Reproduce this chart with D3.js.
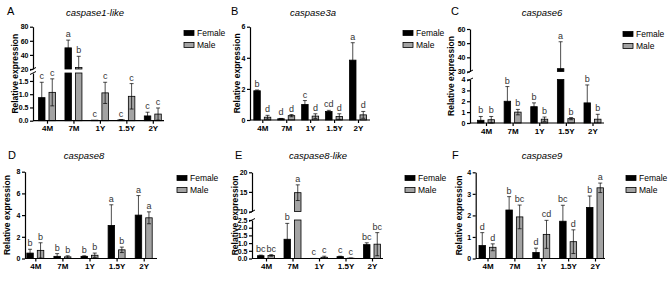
<!DOCTYPE html>
<html>
<head>
<meta charset="utf-8">
<script src="https://cdn.jsdelivr.net/npm/d3@7"></script>
<style>
  body { margin: 0; background: #fff; }
  svg { font-family: "Liberation Sans", Arial, sans-serif; }
</style>
</head>
<body>
<svg id="fig" width="670" height="281"></svg>
<script>
// ---- data ----
const ages = ["4M", "7M", "1Y", "1.5Y", "2Y"];
const sexes = ["Female", "Male"];

// A caspase1-like
const casp1likeFemale   = [0.87, 50, 0.02, 0.03, 0.18];
const casp1likeFemaleSD = [0.58, 11, 0, 0.01, 0.14];
const casp1likeMale     = [1.07, 22, 1.05, 0.92, 0.25];
const casp1likeMaleSD   = [0.51, 16, 0.40, 0.48, 0.23];
const casp1likeSigF = ["c", "a", "c", "c", "c"];
const casp1likeSigM = ["c", "b", "c", "c", "c"];

// B caspase3a
const casp3aFemale   = [1.88, 0.08, 1.0, 0.55, 3.85];
const casp3aFemaleSD = [0.05, 0.02, 0.25, 0.07, 1.12];
const casp3aMale     = [0.18, 0.28, 0.25, 0.22, 0.33];
const casp3aMaleSD   = [0.12, 0.07, 0.15, 0.18, 0.22];
const casp3aSigF = ["b", "d", "c", "cd", "a"];
const casp3aSigM = ["d", "d", "d", "d", "d"];

// C caspase6
const casp6Female   = [0.25, 2.0, 1.5, 32, 1.85];
const casp6FemaleSD = [0.35, 1.35, 0.35, 19, 1.65];
const casp6Male     = [0.3, 1.0, 0.35, 0.4, 0.35];
const casp6MaleSD   = [0.3, 0.25, 0.2, 0.1, 0.45];
const casp6SigF = ["b", "b", "b", "a", "b"];
const casp6SigM = ["b", "b", "b", "b", "b"];

// D caspase8
const casp8Female   = [0.5, 0.2, 0.2, 3.05, 4.0];
const casp8FemaleSD = [0.35, 0.25, 0.05, 1.9, 1.8];
const casp8Male     = [0.75, 0.15, 0.3, 0.8, 3.75];
const casp8MaleSD   = [0.7, 0.1, 0.2, 0.25, 0.55];
const casp8SigF = ["b", "b", "b", "a", "a"];
const casp8SigM = ["b", "b", "b", "b", "a"];

// E caspase8-like
const casp8likeFemale   = [0.18, 1.25, 0.01, 0.12, 0.9];
const casp8likeFemaleSD = [0.04, 1.03, 0, 0.03, 0.12];
const casp8likeMale     = [0.2, 14.8, 0.08, 0.02, 0.93];
const casp8likeMaleSD   = [0.05, 2.0, 0.07, 0.01, 0.75];
const casp8likeSigF = ["bc", "b", "c", "c", "bc"];
const casp8likeSigM = ["bc", "a", "c", "c", "bc"];

// F caspase9
const casp9Female   = [0.6, 2.25, 0.28, 1.73, 2.37];
const casp9FemaleSD = [0.6, 0.62, 0.2, 0.74, 0.53];
const casp9Male     = [0.52, 1.93, 1.12, 0.78, 3.28];
const casp9MaleSD   = [0.16, 0.55, 0.65, 0.55, 0.22];
const casp9SigF = ["d", "b", "d", "bc", "b"];
const casp9SigM = ["d", "bc", "cd", "d", "a"];

// ---- panel layout ----
const panels = [
  { tag: "A", gene: "caspase1-like", f: [casp1likeFemale, casp1likeFemaleSD, casp1likeSigF], m: [casp1likeMale, casp1likeMaleSD, casp1likeSigM],
    x0: 33, x1: 164, c0: 47, c1: 152.8, base: 120.7, top: 26.7,
    brk: { lowMax: 1.8, lowTop: 73, upMin: 20, upBot: 69, upMax: 80 },
    ticksLow: [0, 0.5, 1, 1.5], ticksUp: [20, 40, 60, 80], fmt: ".1f", fmtUp: "d",
    labX: 15, tagX: 7, tagY: 15, titleX: 95, titleY: 16, legX: 184, legY: 33 },
  { tag: "B", gene: "caspase3a", f: [casp3aFemale, casp3aFemaleSD, casp3aSigF], m: [casp3aMale, casp3aMaleSD, casp3aSigM],
    x0: 250, x1: 370, c0: 262.3, c1: 358, base: 120, top: 26.7, yMax: 6,
    ticks: [0, 2, 4, 6], fmt: "d",
    labX: 237, tagX: 231, tagY: 15, titleX: 313, titleY: 16, legX: 403, legY: 33 },
  { tag: "C", gene: "caspase6", f: [casp6Female, casp6FemaleSD, casp6SigF], m: [casp6Male, casp6MaleSD, casp6SigM],
    x0: 470, x1: 604, c0: 486, c1: 592.5, base: 123, top: 29,
    brk: { lowMax: 4, lowTop: 79.5, upMin: 30, upBot: 71.5, upMax: 60 },
    ticksLow: [0, 1, 2, 3, 4], ticksUp: [30, 40, 50, 60], fmt: "d", fmtUp: "d",
    labX: 451, tagX: 451, tagY: 15, titleX: 542, titleY: 16, legX: 623, legY: 34 },
  { tag: "D", gene: "caspase8", f: [casp8Female, casp8FemaleSD, casp8SigF], m: [casp8Male, casp8MaleSD, casp8SigM],
    x0: 25, x1: 157, c0: 35.3, c1: 143.7, base: 258.5, top: 171.7, yMax: 8,
    ticks: [0, 2, 4, 6, 8], fmt: "d",
    labX: 7, tagX: 8, tagY: 159, titleX: 84, titleY: 159, legX: 177, legY: 178 },
  { tag: "E", gene: "caspase8-like", f: [casp8likeFemale, casp8likeFemaleSD, casp8likeSigF], m: [casp8likeMale, casp8likeMaleSD, casp8likeSigM],
    x0: 252, x1: 383, c0: 266, c1: 372, base: 258.5, top: 172.3,
    brk: { lowMax: 2.5, lowTop: 220, upMin: 10, upBot: 211.5, upMax: 20 },
    ticksLow: [0, 0.5, 1, 1.5, 2, 2.5], ticksUp: [10, 15, 20], fmt: ".1f", fmtUp: "d",
    labX: 235, tagX: 235, tagY: 159, titleX: 318, titleY: 159, legX: 405, legY: 178 },
  { tag: "F", gene: "caspase9", f: [casp9Female, casp9FemaleSD, casp9SigF], m: [casp9Male, casp9MaleSD, casp9SigM],
    x0: 475.7, x1: 605, c0: 487.5, c1: 595, base: 258.5, top: 172.3, yMax: 4,
    ticks: [0, 1, 2, 3, 4], fmt: "d",
    labX: 459, tagX: 452, tagY: 159, titleX: 542, titleY: 159, legX: 626, legY: 178 }
];

const svg = d3.select("#fig");
const barW = 6.5, barGap = 2;
const maleFill = "#a3a3a3";

function drawPanel(p) {
  const g = svg.append("g");

  // y segments (one, or two with an axis break)
  let segs;
  if (p.brk) {
    segs = [
      { dom: [0, p.brk.lowMax], rng: [p.base, p.brk.lowTop], ticks: p.ticksLow, fmt: p.fmt },
      { dom: [p.brk.upMin, p.brk.upMax], rng: [p.brk.upBot, p.top], ticks: p.ticksUp, fmt: p.fmtUp }
    ];
  } else {
    segs = [{ dom: [0, p.yMax], rng: [p.base, p.top], ticks: p.ticks, fmt: p.fmt }];
  }
  segs.forEach(s => s.y = d3.scaleLinear().domain(s.dom).range(s.rng));
  const segOf = v => (segs.length > 1 && v >= segs[1].dom[0]) ? segs[1] : segs[0];
  const yv = v => segOf(v).y(v);

  const x = d3.scalePoint().domain(ages).range([p.c0, p.c1]);

  const rows = [];
  ages.forEach((a, i) => {
    rows.push({ age: a, sex: "Female", v: p.f[0][i], sd: p.f[1][i], sig: p.f[2][i], bx: x(a) - barGap - barW });
    rows.push({ age: a, sex: "Male", v: p.m[0][i], sd: p.m[1][i], sig: p.m[2][i], bx: x(a) + barGap });
  });

  // bars, one piece per axis segment
  segs.forEach(s => {
    const inSeg = rows.filter(d => d.v > s.dom[0]);
    g.selectAll(null)
      .data(inSeg)
      .enter()
      .append("rect")
        .attr("x", d => d.bx)
        .attr("width", barW)
        .attr("y", d => s.y(Math.min(d.v, s.dom[1])))
        .attr("height", d => s.y(s.dom[0]) - s.y(Math.min(d.v, s.dom[1])))
        .attr("fill", d => d.sex === "Female" ? "#000" : maleFill)
        .attr("stroke", "#000")
        .attr("stroke-width", 0.8);
  });

  // error bars (both ways; the lower half only shows on the grey bars)
  const eb = rows.filter(d => d.sd > 0);
  const capW = 4;
  eb.forEach(d => {
    const cx = d.bx + barW / 2;
    const s = segOf(d.v);
    const yTop = yv(d.v + d.sd);
    const loV = d.v - d.sd;
    const yLo = s.y(Math.max(loV, s.dom[0]));
    g.append("line")
      .attr("x1", cx).attr("x2", cx)
      .attr("y1", yLo).attr("y2", yTop)
      .attr("stroke", "#000").attr("stroke-width", 0.7);
    g.append("line")
      .attr("x1", cx - capW / 2).attr("x2", cx + capW / 2)
      .attr("y1", yTop).attr("y2", yTop)
      .attr("stroke", "#000").attr("stroke-width", 0.7);
    if (loV >= s.dom[0]) {
      g.append("line")
        .attr("x1", cx - capW / 2).attr("x2", cx + capW / 2)
        .attr("y1", yLo).attr("y2", yLo)
        .attr("stroke", "#000").attr("stroke-width", 0.7);
    }
  });

  // significance letters
  g.selectAll(null)
    .data(rows)
    .enter()
    .append("text")
      .attr("x", d => d.bx + barW / 2)
      .attr("y", d => yv(d.v + d.sd) - 3)
      .attr("text-anchor", "middle")
      .style("font-size", "9px")
      .attr("fill", "#333")
      .text(d => d.sig);

  // y axis segments
  segs.forEach(s => {
    g.append("g")
      .attr("transform", `translate(${p.x0},0)`)
      .call(d3.axisLeft(s.y).tickValues(s.ticks).tickSize(3).tickSizeOuter(0).tickPadding(1.5)
        .tickFormat(d3.format(s.fmt)))
      .call(a => a.select(".domain").attr("stroke-width", 1.2))
      .call(a => a.selectAll(".tick line").attr("stroke-width", 1.2))
      .call(a => a.selectAll("text").style("font-size", "7px").style("font-weight", "bold").attr("fill", "#000"));
  });

  // break marks
  if (p.brk) {
    [p.brk.lowTop, p.brk.upBot].forEach(yb => {
      g.append("line")
        .attr("x1", p.x0 - 3).attr("y1", yb + 1.5)
        .attr("x2", p.x0 + 3).attr("y2", yb - 1.5)
        .attr("stroke", "#000").attr("stroke-width", 1);
    });
  }

  // x axis
  g.append("line")
    .attr("x1", p.x0).attr("x2", p.x1)
    .attr("y1", p.base).attr("y2", p.base)
    .attr("stroke", "#000").attr("stroke-width", 1.2);
  g.append("g")
    .attr("transform", `translate(0,${p.base})`)
    .call(d3.axisBottom(x).tickSize(3).tickPadding(2))
    .call(a => a.select(".domain").remove())
    .call(a => a.selectAll(".tick line").attr("stroke-width", 1.2))
    .call(a => a.selectAll("text").style("font-size", "8px").style("font-weight", "bold").attr("fill", "#000"));

  // y label
  g.append("text")
    .attr("transform", `translate(${p.labX},${(p.base + p.top) / 2}) rotate(-90)`)
    .attr("text-anchor", "middle")
    .attr("dy", "0.35em")
    .style("font-size", "8.5px")
    .style("font-weight", "bold")
    .text("Relative expression");

  // title and panel tag
  g.append("text")
    .attr("x", p.titleX).attr("y", p.titleY)
    .attr("text-anchor", "middle")
    .style("font-size", "9.5px")
    .style("font-style", "italic")
    .text(p.gene);
  g.append("text")
    .attr("x", p.tagX).attr("y", p.tagY)
    .style("font-size", "11px")
    .text(p.tag);

  // legend
  sexes.forEach((sx, i) => {
    const ly = p.legY + i * 12;
    g.append("rect")
      .attr("x", p.legX).attr("y", ly - 2.5)
      .attr("width", 10).attr("height", 5)
      .attr("fill", sx === "Female" ? "#000" : maleFill)
      .attr("stroke", "#000").attr("stroke-width", 0.8);
    g.append("text")
      .attr("x", p.legX + 13).attr("y", ly + 3)
      .style("font-size", "8.5px")
      .text(sx);
  });
}

panels.forEach(drawPanel);
</script>
</body>
</html>
